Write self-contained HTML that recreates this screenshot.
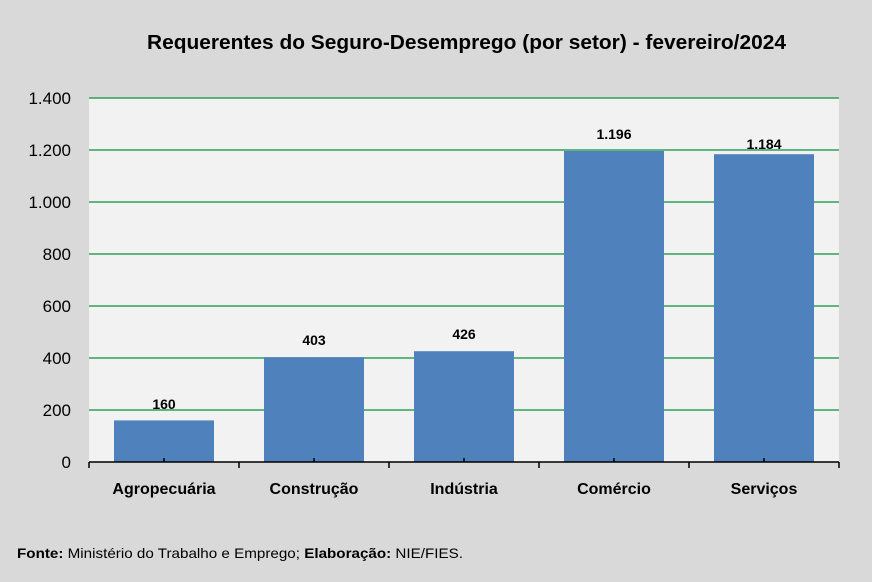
<!DOCTYPE html>
<html><head><meta charset="utf-8"><style>
html,body{margin:0;padding:0;background:#d9d9d9;}
svg{display:block;font-family:"Liberation Sans",sans-serif;}
</style></head><body>
<svg width="872" height="582" viewBox="0 0 872 582" xmlns="http://www.w3.org/2000/svg">
<rect width="872" height="582" fill="#d9d9d9"/>
<text x="147" y="49" font-size="20" font-weight="bold" fill="#000" textLength="639" lengthAdjust="spacingAndGlyphs">Requerentes do Seguro-Desemprego (por setor) - fevereiro/2024</text>
<rect x="89" y="98" width="750" height="364" fill="#f2f2f2"/>
<g stroke="#2ea05a" stroke-width="1.5">
<line x1="89" x2="839" y1="98" y2="98"/><line x1="89" x2="839" y1="150" y2="150"/>
<line x1="89" x2="839" y1="202" y2="202"/><line x1="89" x2="839" y1="254" y2="254"/>
<line x1="89" x2="839" y1="306" y2="306"/><line x1="89" x2="839" y1="358" y2="358"/>
<line x1="89" x2="839" y1="410" y2="410"/>
</g>
<g fill="#4f81bd">
<rect x="114" y="420.4" width="100" height="41.6"/>
<rect x="264" y="357.2" width="100" height="104.8"/>
<rect x="414" y="351.2" width="100" height="110.8"/>
<rect x="564" y="151" width="100" height="311"/>
<rect x="714" y="154.2" width="100" height="307.8"/>
</g>
<g stroke="#000" stroke-width="1.5">
<line x1="89" x2="839" y1="462" y2="462"/>
<line x1="89" x2="89" y1="462" y2="468"/><line x1="239" x2="239" y1="462" y2="468"/>
<line x1="389" x2="389" y1="462" y2="468"/><line x1="539" x2="539" y1="462" y2="468"/>
<line x1="689" x2="689" y1="462" y2="468"/><line x1="839" x2="839" y1="462" y2="468"/>
<line x1="164" x2="164" y1="458" y2="462"/><line x1="314" x2="314" y1="458" y2="462"/>
<line x1="464" x2="464" y1="458" y2="462"/><line x1="614" x2="614" y1="458" y2="462"/>
<line x1="764" x2="764" y1="458" y2="462"/>
</g>
<g font-size="17" text-anchor="end" fill="#000">
<text x="71" y="104">1.400</text><text x="71" y="156">1.200</text><text x="71" y="208">1.000</text>
<text x="71" y="260">800</text><text x="71" y="312">600</text><text x="71" y="364">400</text>
<text x="71" y="416">200</text><text x="71" y="468">0</text>
</g>
<g font-size="14" font-weight="bold" text-anchor="middle" fill="#000">
<text x="164" y="409">160</text><text x="314" y="345">403</text><text x="464" y="339">426</text>
<text x="614" y="139">1.196</text><text x="764" y="149">1.184</text>
</g>
<g font-size="16" font-weight="bold" text-anchor="middle" fill="#000">
<text x="164" y="494">Agropecuária</text><text x="314" y="494">Construção</text>
<text x="464" y="494">Indústria</text><text x="614" y="494">Comércio</text>
<text x="764" y="494">Serviços</text>
</g>
<text x="17" y="558" font-size="14" fill="#000" textLength="446" lengthAdjust="spacingAndGlyphs"><tspan font-weight="bold">Fonte:</tspan> Ministério do Trabalho e Emprego; <tspan font-weight="bold">Elaboração:</tspan> NIE/FIES.</text>
</svg>
</body></html>
